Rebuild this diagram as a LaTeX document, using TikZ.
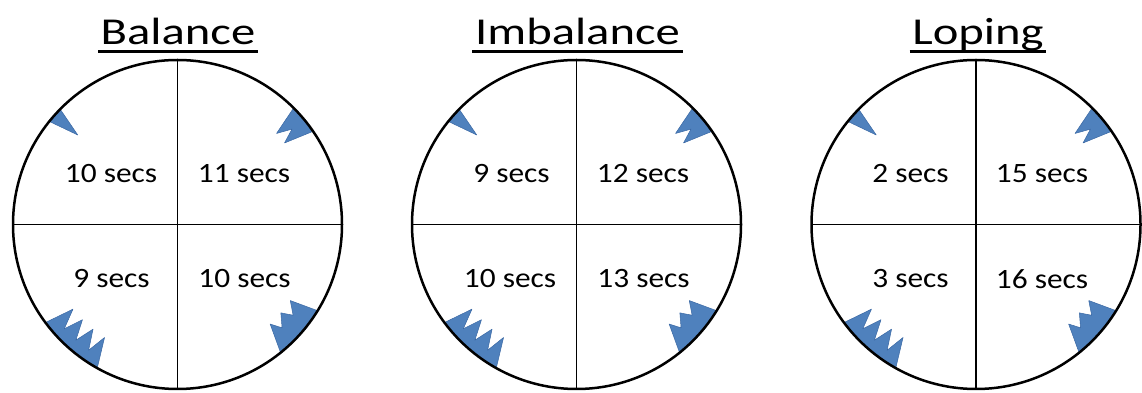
\documentclass[tikz,border=0pt]{standalone}
\usepackage{fontspec}
\setmainfont{Carlito}
\definecolor{toothfill}{HTML}{4F81BD}
\definecolor{toothedge}{HTML}{3A68A4}
\tikzset{
  wheel/.style={circle, draw=black, line width=2.5pt, minimum size=329pt, inner sep=0pt, outer sep=0pt},
  divider/.style={draw=black, line width=1.3pt},
  lbl/.style={inner sep=0pt, font=\fontsize{28}{30}\selectfont},
  ttl/.style={inner sep=0pt, anchor=base, font=\fontsize{38}{40}\selectfont},
  uline/.style={draw=black, line width=3pt},
  tooth/.style={fill=toothfill, draw=toothedge, line width=0.5pt, line join=round},
}
% #1 centre, #2 start angle (upper end), #3 number of teeth minus one,
% #4 pitch (signed), #5 peak offset (signed), #6 peak radius, #7 notch radius
\newcommand{\zigzag}[7]{%
  \filldraw[tooth] ([shift={(#1)}]canvas polar cs:angle={#2},radius=164.5pt)
    foreach \i in {1,...,#3} {
      -- ([shift={(#1)}]canvas polar cs:angle={#2+(\i-1)*(#4)+(#5)},radius=#6pt)
      -- ([shift={(#1)}]canvas polar cs:angle={#2+\i*(#4)},radius=#7pt) }
    -- ([shift={(#1)}]canvas polar cs:angle={#2+#3*(#4)+(#5)},radius=#6pt)
    -- ([shift={(#1)}]canvas polar cs:angle={#2+(#3+1)*(#4)},radius=164.5pt)
    arc[start angle={#2+(#3+1)*(#4)}, end angle={#2}, radius=164.5pt] -- cycle;
}
% single tooth: #1 centre, #2 start angle, #3 width, #4 peak offset, #5 peak radius
\newcommand{\onetooth}[5]{%
  \filldraw[tooth] ([shift={(#1)}]canvas polar cs:angle={#2},radius=164.5pt)
    -- ([shift={(#1)}]canvas polar cs:angle={#2+(#4)},radius=#5pt)
    -- ([shift={(#1)}]canvas polar cs:angle={#2+(#3)},radius=164.5pt)
    arc[start angle={#2+(#3)}, end angle={#2}, radius=164.5pt] -- cycle;
}
\newcommand{\allteeth}[1]{%
  \onetooth{#1}{135.5}{5.7}{2.6}{134}
  \zigzag{#1}{45.1}{1}{-5.3}{-2.5}{134.5}{149}
  \zigzag{#1}{328.4}{2}{-6.53}{-2.4}{136}{147}
  \zigzag{#1}{216.6}{3}{6.05}{2.4}{134.5}{154}
}
\begin{document}
\begin{tikzpicture}[x=1pt, y=1pt]
\useasboundingbox (0,0) rectangle (1142,393);
\coordinate (o1) at (177.5,168.5);
\coordinate (o2) at (576.5,168.5);
\coordinate (o3) at (976,168.5);

\allteeth{o1}
\allteeth{o2}
\allteeth{o3}

\node[wheel] (c1) at (o1) {};
\node[wheel] (c2) at (o2) {};
\node[wheel] (c3) at (o3) {};

\foreach \c in {c1,c2,c3} {
  \draw[divider] (\c.north) -- (\c.south);
  \draw[divider] (\c.west) -- (\c.east);
}

% titles
\node[ttl] (t1) at (178,348) {\scalebox{1.28}[1]{Balance}};
\node[ttl] (t2) at (577.5,348) {\scalebox{1.28}[1]{Imbalance}};
\node[ttl] (t3) at (978,348) {\scalebox{1.28}[1]{Loping}};
\foreach \t in {t1,t2,t3} {
  \draw[uline] ([xshift=-2.5pt,yshift=-6.7pt]\t.base west) -- ([xshift=2.5pt,yshift=-6.7pt]\t.base east);
}

% labels
\node[lbl] (a1) at (111,219) {\scalebox{1.12}[1]{10 secs}};
\node[lbl] (b1) at (244,219) {\scalebox{1.12}[1]{11 secs}};
\node[lbl] (d1) at (111.5,114) {\scalebox{1.12}[1]{9 secs}};
\node[lbl] (e1) at (244.5,114) {\scalebox{1.12}[1]{10 secs}};

\node[lbl] (a2) at (511.5,219) {\scalebox{1.12}[1]{9 secs}};
\node[lbl] (b2) at (643,219) {\scalebox{1.12}[1]{12 secs}};
\node[lbl] (d2) at (510,114) {\scalebox{1.12}[1]{10 secs}};
\node[lbl] (e2) at (643.5,114) {\scalebox{1.12}[1]{13 secs}};

\node[lbl] (a3) at (910.5,219) {\scalebox{1.12}[1]{2 secs}};
\node[lbl] (b3) at (1042,219) {\scalebox{1.12}[1]{15 secs}};
\node[lbl] (d3) at (910.5,114) {\scalebox{1.12}[1]{3 secs}};
\node[lbl] (e3) at (1042,114) {\scalebox{1.12}[1]{16 secs}};
\end{tikzpicture}
\end{document}
